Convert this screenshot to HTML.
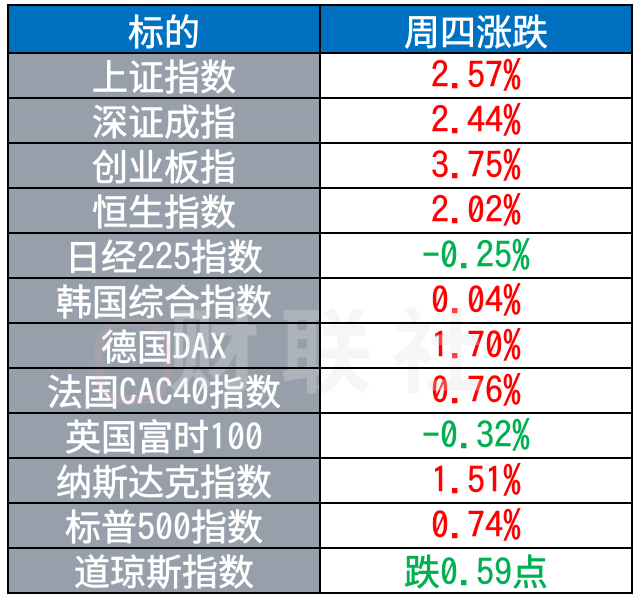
<!DOCTYPE html>
<html>
<head>
<meta charset="utf-8">
<style>
  html,body{margin:0;padding:0;background:#fff;}
  body{width:640px;height:600px;position:relative;overflow:hidden;
       font-family:"Liberation Sans","Noto Sans CJK SC",sans-serif;}
  .cell{position:absolute;height:45px;line-height:45px;text-align:center;
        font-size:36px;font-family:"Noto Sans CJK SC","WenQuanYi Zen Hei",sans-serif;white-space:nowrap;
        -webkit-text-stroke:0.6px currentColor;}
  .l{left:8px;width:312px;background:#97A0AA;color:#fff;}
  .r{left:320px;width:312px;background:#fff;}
  .hd{background:#0070C0;color:#fff;height:48px;line-height:50px;top:5px;}
  .n{font-family:"IPAGothic","Liberation Mono",monospace;-webkit-text-stroke:0.5px currentColor;}
  .red{color:#FF0000;}
  .grn{color:#00B050;}
  .hl{position:absolute;left:8px;width:624px;height:2px;background:#000;}
  .vl{position:absolute;top:5px;height:590px;width:2px;background:#000;}
  .wm{position:absolute;font-family:"Noto Sans CJK SC",sans-serif;font-weight:bold;
      font-size:92px;color:rgba(225,225,225,0.3);top:296px;left:168px;letter-spacing:20px;line-height:100px;}
  .logo{position:absolute;left:95px;top:318px;width:60px;height:70px;border-radius:30px;
        border:8px solid rgba(235,170,175,0.16);}
</style>
</head>
<body>
  <div class="cell l hd">标的</div>
  <div class="cell r hd">周四涨跌</div>

  <div class="cell l" style="top:53px">上证指数</div>
  <div class="cell r red n" style="top:53px">2.57%</div>

  <div class="cell l" style="top:98px">深证成指</div>
  <div class="cell r red n" style="top:98px">2.44%</div>

  <div class="cell l" style="top:143px">创业板指</div>
  <div class="cell r red n" style="top:143px">3.75%</div>

  <div class="cell l" style="top:188px">恒生指数</div>
  <div class="cell r red n" style="top:188px">2.02%</div>

  <div class="cell l" style="top:233px">日经<span class="n">225</span>指数</div>
  <div class="cell r grn n" style="top:233px">-0.25%</div>

  <div class="cell l" style="top:278px">韩国综合指数</div>
  <div class="cell r red n" style="top:278px">0.04%</div>

  <div class="cell l" style="top:323px">德国<span class="n">DAX</span></div>
  <div class="cell r red n" style="top:323px">1.70%</div>

  <div class="cell l" style="top:368px">法国<span class="n">CAC40</span>指数</div>
  <div class="cell r red n" style="top:368px">0.76%</div>

  <div class="cell l" style="top:413px">英国富时<span class="n">100</span></div>
  <div class="cell r grn n" style="top:413px">-0.32%</div>

  <div class="cell l" style="top:458px">纳斯达克指数</div>
  <div class="cell r red n" style="top:458px">1.51%</div>

  <div class="cell l" style="top:503px">标普<span class="n">500</span>指数</div>
  <div class="cell r red n" style="top:503px">0.74%</div>

  <div class="cell l" style="top:548px">道琼斯指数</div>
  <div class="cell r grn" style="top:548px">跌<span class="n">0.59</span>点</div>

  <div class="logo"></div>
  <div class="wm">财联社</div>

  <div class="hl" style="top:4px"></div>
  <div class="hl" style="top:52px"></div>
  <div class="hl" style="top:97px"></div>
  <div class="hl" style="top:142px"></div>
  <div class="hl" style="top:187px"></div>
  <div class="hl" style="top:232px"></div>
  <div class="hl" style="top:277px"></div>
  <div class="hl" style="top:322px"></div>
  <div class="hl" style="top:367px"></div>
  <div class="hl" style="top:412px"></div>
  <div class="hl" style="top:457px"></div>
  <div class="hl" style="top:502px"></div>
  <div class="hl" style="top:547px"></div>
  <div class="hl" style="top:592px"></div>

  <div class="vl" style="left:7px;top:4px;height:590px"></div>
  <div class="vl" style="left:319px;top:4px;height:590px"></div>
  <div class="vl" style="left:631px;top:4px;height:590px"></div>
</body>
</html>
